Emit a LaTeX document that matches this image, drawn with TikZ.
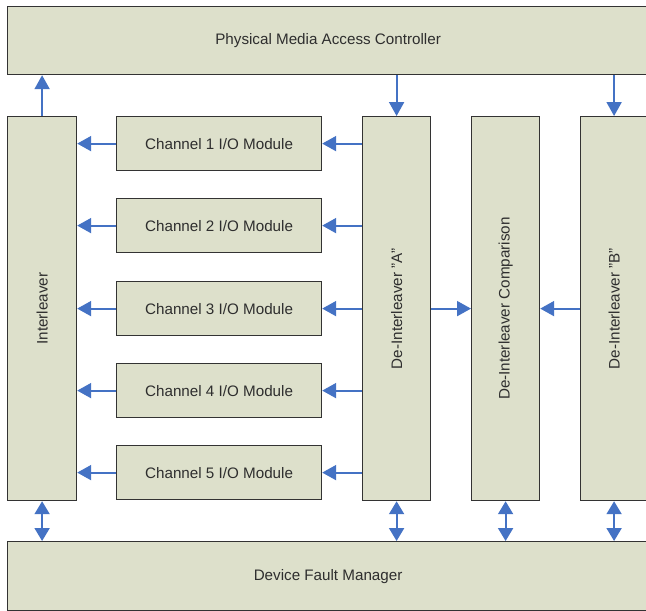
\documentclass[tikz,border=0pt]{standalone}
\usepackage{fontspec}
\setmainfont{Liberation Sans}
\usetikzlibrary{arrows.meta}
\definecolor{blockfill}{HTML}{DDE0CB}
\definecolor{linkblue}{HTML}{4472C4}
\tikzset{
  block/.style={draw=black!80, line width=1.2pt, fill=blockfill, inner sep=0pt, anchor=north west},
  lbl/.style={font=\fontsize{15.2}{17}\selectfont, text=black!82, inner sep=0pt},
  vlbl/.style={lbl, rotate=90},
  link/.style={draw=linkblue, line width=2pt, -{Triangle[length=14pt,width=15pt]}},
  duplex/.style={draw=linkblue, line width=2pt, {Triangle[length=13pt,width=15pt]}-{Triangle[length=13pt,width=15pt]}}
}
\begin{document}
\begin{tikzpicture}[x=1pt, y=-1pt]
\clip (0,0) rectangle (646,611);
\fill[white] (0,0) rectangle (646,611);

% top and bottom bars
\node[block, minimum width=641pt, minimum height=68pt] (pmac) at (7,6) {};
\node[lbl] (pmactext) at (pmac.center) {Physical Media Access Controller};
\node[block, minimum width=641pt, minimum height=69pt] (dfm) at (7,541) {};
\node[lbl] (dfmtext) at (dfm.center) {Device Fault Manager};

% tall columns
\node[block, minimum width=69pt, minimum height=384pt] (inter) at (7,116) {};
\node[vlbl] (intertext) at (inter.center) {Interleaver};
\node[block, minimum width=68pt, minimum height=384pt] (dia) at (362,116) {};
\node[vlbl] (diatext) at (dia.center) {De-Interleaver "A"};
\node[block, minimum width=68pt, minimum height=384pt] (cmp) at (471,116) {};
\node[vlbl] (cmptext) at (cmp.center) {De-Interleaver Comparison};
\node[block, minimum width=67pt, minimum height=384pt] (dib) at (580,116) {};
\node[vlbl] (dibtext) at (dib.center) {De-Interleaver "B"};

% channel modules
\foreach \i/\y in {1/116, 2/198, 3/281, 4/363, 5/445} {
  \node[block, minimum width=205pt, minimum height=54pt] (ch\i) at (116,\y) {};
  \node[lbl] (ch\i text) at (ch\i.center) {Channel \i\ I/O Module};
  \draw[link] (dia.west |- ch\i.center) -- (ch\i.east);
  \draw[link] (ch\i.west) -- (inter.east |- ch\i.center);
}

% links to the top bar
\draw[link] (inter.north) -- (inter.north |- pmac.south);
\draw[link] (dia.north |- pmac.south) -- (dia.north);
\draw[link] (dib.north |- pmac.south) -- (dib.north);

% comparison inputs
\draw[link] (dia.east) -- (cmp.west);
\draw[link] (dib.west) -- (cmp.east);

% links to the fault manager
\draw[duplex] (inter.south) -- (inter.south |- dfm.north);
\draw[duplex] (dia.south) -- (dia.south |- dfm.north);
\draw[duplex] (cmp.south) -- (cmp.south |- dfm.north);
\draw[duplex] (dib.south) -- (dib.south |- dfm.north);
\end{tikzpicture}
\end{document}
